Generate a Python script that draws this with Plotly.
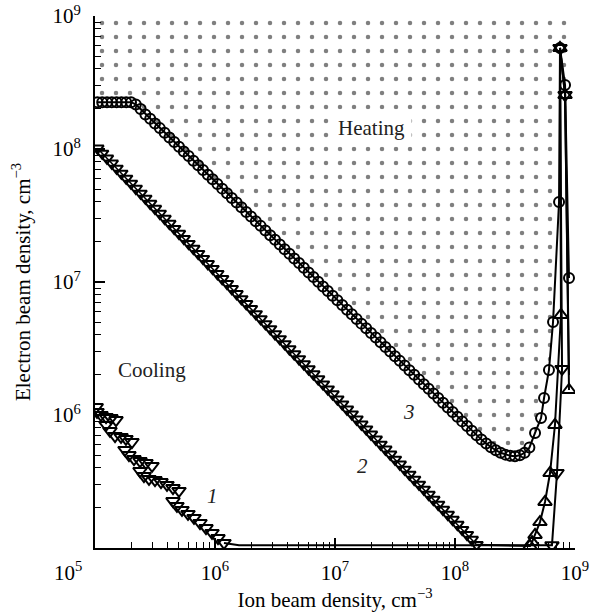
import plotly.graph_objects as go

# ---- data: log10 of densities (cm^-3) ----
# Curve 1, lower-left jagged branch (down triangles)
c1_ni = [5.010, 5.017, 5.050, 5.092, 5.133, 5.175,
         5.092, 5.125, 5.167, 5.217, 5.258, 5.308,
         5.250, 5.283, 5.325, 5.375, 5.425, 5.475,
         5.375, 5.408, 5.450, 5.500, 5.550, 5.600, 5.650, 5.700,
         5.650, 5.683, 5.725, 5.775, 5.825, 5.875, 5.925, 5.975, 6.025, 6.075]
c1_ne = [6.060, 6.023, 6.000, 5.985, 5.977, 5.962,
         5.925, 5.880, 5.842, 5.835, 5.820, 5.797,
         5.737, 5.699, 5.669, 5.654, 5.639, 5.617,
         5.579, 5.541, 5.519, 5.511, 5.496, 5.474, 5.451, 5.429,
         5.353, 5.316, 5.286, 5.256, 5.226, 5.188, 5.150, 5.113, 5.075, 5.038]
# Curve 1, bottom run and right branch
c1r_ni = [6.075, 6.200, 7.000, 8.000, 8.790, 8.808, 8.850, 8.892, 8.875, 8.917, 8.950]
c1r_ne = [5.038, 5.020, 5.020, 5.020, 5.020, 5.020, 5.564, 6.346, 8.760, 8.406, 6.300]
c1r_mark = [False, False, False, False, False, True, True, True, True, True, False]

# Curve 2, lower branch (down triangles)
c2_ni = [5.02, 5.06, 5.10, 5.14, 5.18, 5.22, 5.26, 5.30, 5.34, 5.38,
         5.42, 5.46, 5.50, 5.54, 5.58, 5.62, 5.66, 5.70, 5.74, 5.78,
         5.82, 5.86, 5.90, 5.94, 5.98, 6.02, 6.06, 6.10, 6.14, 6.18,
         6.22, 6.26, 6.30, 6.34, 6.38, 6.42, 6.46, 6.50, 6.54, 6.58,
         6.62, 6.66, 6.70, 6.74, 6.78, 6.82, 6.86, 6.90, 6.94, 6.98,
         7.02, 7.06, 7.10, 7.14, 7.18, 7.22, 7.26, 7.30, 7.34, 7.38,
         7.42, 7.46, 7.50, 7.54, 7.58, 7.62, 7.66, 7.70, 7.74, 7.78,
         7.82, 7.86, 7.90, 7.94, 7.98, 8.02, 8.06, 8.10, 8.14, 8.18]
c2_ne = [8.005, 7.967, 7.930, 7.892, 7.854, 7.816, 7.779, 7.741, 7.703, 7.666,
         7.628, 7.590, 7.552, 7.515, 7.477, 7.439, 7.401, 7.364, 7.326, 7.288,
         7.251, 7.213, 7.175, 7.137, 7.100, 7.062, 7.024, 6.987, 6.949, 6.911,
         6.873, 6.836, 6.798, 6.760, 6.722, 6.685, 6.647, 6.609, 6.572, 6.534,
         6.496, 6.458, 6.421, 6.383, 6.345, 6.308, 6.270, 6.232, 6.194, 6.157,
         6.119, 6.081, 6.043, 6.006, 5.968, 5.930, 5.893, 5.855, 5.817, 5.779,
         5.742, 5.704, 5.666, 5.629, 5.591, 5.553, 5.515, 5.478, 5.440, 5.402,
         5.364, 5.327, 5.289, 5.251, 5.214, 5.176, 5.138, 5.100, 5.063, 5.025]
# Curve 2, bottom run and right branch (up triangles)
c2r_ni = [8.18, 8.40, 8.600, 8.625, 8.642, 8.667, 8.708, 8.750, 8.792, 8.833, 8.883, 8.875, 8.917, 8.950]
c2r_ne = [5.025, 5.020, 5.020, 5.015, 5.045, 5.098, 5.195, 5.346, 5.564, 5.925, 6.752, 8.760, 8.406, 6.188]
c2r_mark = [False, False, False, True, True, True, True, True, True, True, True, True, True, True]

# Curve 3 (circles)
c3_ni = [5.02, 5.06, 5.10, 5.14, 5.18, 5.22, 5.26, 5.30, 5.34, 5.38, 5.42,
         5.46, 5.50, 5.54, 5.58, 5.62, 5.66, 5.70, 5.74, 5.78,
         5.82, 5.86, 5.90, 5.94, 5.98, 6.02, 6.06, 6.10, 6.14, 6.18,
         6.22, 6.26, 6.30, 6.34, 6.38, 6.42, 6.46, 6.50, 6.54, 6.58,
         6.62, 6.66, 6.70, 6.74, 6.78, 6.82, 6.86, 6.90, 6.94, 6.98,
         7.02, 7.06, 7.10, 7.14, 7.18, 7.22, 7.26, 7.30, 7.34, 7.38,
         7.42, 7.46, 7.50, 7.54, 7.58, 7.62, 7.66, 7.70, 7.74, 7.78,
         7.82, 7.86, 7.90, 7.94, 7.98, 8.02, 8.06, 8.10, 8.14, 8.18,
         8.22, 8.26, 8.30, 8.34, 8.38, 8.42, 8.46, 8.50, 8.54, 8.58, 8.62,
         8.667, 8.717, 8.742, 8.783, 8.817, 8.867, 8.875, 8.917, 8.950]
c3_ne = [8.352, 8.352, 8.352, 8.352, 8.352, 8.352, 8.352, 8.352, 8.335, 8.300, 8.260,
         8.227, 8.192, 8.157, 8.122, 8.087, 8.052, 8.017, 7.982, 7.947,
         7.912, 7.877, 7.842, 7.807, 7.772, 7.737, 7.702, 7.667, 7.632, 7.597,
         7.562, 7.527, 7.492, 7.457, 7.422, 7.387, 7.352, 7.317, 7.282, 7.247,
         7.212, 7.177, 7.142, 7.107, 7.072, 7.037, 7.002, 6.967, 6.932, 6.897,
         6.862, 6.827, 6.792, 6.757, 6.722, 6.687, 6.652, 6.617, 6.582, 6.547,
         6.512, 6.477, 6.442, 6.407, 6.372, 6.337, 6.302, 6.267, 6.232, 6.197,
         6.162, 6.127, 6.092, 6.057, 6.022, 5.987, 5.952, 5.917, 5.882, 5.847,
         5.815, 5.785, 5.758, 5.735, 5.716, 5.702, 5.693, 5.690, 5.697, 5.716, 5.755,
         5.865, 5.977, 6.128, 6.338, 6.699, 7.602, 8.760, 8.481, 7.030]

x_range = [5, 9]
y_range = [5, 9]
major_exp = [6, 7, 8, 9]
tick_text = ["10<sup>%d</sup>" % e for e in major_exp]
corner_label = "10<sup>5</sup>"

region_labels = [("Heating", 7.308, 8.158, False, True),
                 ("Cooling", 5.475, 6.338, False, False),
                 ("1", 5.975, 5.391, True, False),
                 ("2", 7.225, 5.617, True, False),
                 ("3", 7.617, 6.023, True, False)]


def pw(a):
    return [10 ** v for v in a]


def sel(a, m):
    return [v for v, k in zip(a, m) if k]


FONT = "Liberation Serif"
fig = go.Figure()

# Heating region pattern (above curve 3)
fx = [x_range[0]] + c3_ni + [x_range[1], x_range[1], x_range[0]]
fy = [c3_ne[0]] + c3_ne + [c3_ne[-1], y_range[1], y_range[1]]
fig.add_trace(go.Scatter(
    x=pw(fx), y=pw(fy), mode="lines", fill="toself", line=dict(width=0),
    fillcolor="white",
    fillpattern=dict(shape=".", size=14, solidity=0.08, fgcolor="black", bgcolor="white"),
    hoverinfo="skip", showlegend=False))

mk_line = dict(color="black", width=2)

# Curve 3
fig.add_trace(go.Scatter(
    x=pw(c3_ni), y=pw(c3_ne), mode="lines+markers",
    line=dict(color="black", width=2),
    marker=dict(symbol="circle-open", size=10, color="black", line=mk_line),
    showlegend=False))

# Curve 2
fig.add_trace(go.Scatter(
    x=pw(c2_ni), y=pw(c2_ne), mode="lines+markers",
    line=dict(color="black", width=1.5),
    marker=dict(symbol="triangle-down-open", size=11, color="black", line=mk_line),
    showlegend=False))
fig.add_trace(go.Scatter(
    x=pw(c2r_ni), y=pw(c2r_ne), mode="lines",
    line=dict(color="black", width=2), showlegend=False))
fig.add_trace(go.Scatter(
    x=pw(sel(c2r_ni, c2r_mark)), y=pw(sel(c2r_ne, c2r_mark)), mode="markers",
    marker=dict(symbol="triangle-up-open", size=12, color="black", line=mk_line),
    showlegend=False))

# Curve 1
fig.add_trace(go.Scatter(
    x=pw(c1_ni), y=pw(c1_ne), mode="markers",
    marker=dict(symbol="triangle-down-open", size=12, color="black", line=mk_line),
    showlegend=False))
fig.add_trace(go.Scatter(
    x=pw(c1r_ni), y=pw(c1r_ne), mode="lines",
    line=dict(color="black", width=2), showlegend=False))
fig.add_trace(go.Scatter(
    x=pw(sel(c1r_ni, c1r_mark)), y=pw(sel(c1r_ne, c1r_mark)), mode="markers",
    marker=dict(symbol="triangle-down-open", size=12, color="black", line=mk_line),
    showlegend=False))

minor_vals = [m * 10 ** e for e in range(5, 9) for m in range(2, 10)]

axis_common = dict(
    type="log", showline=True, linecolor="black", linewidth=2,
    ticks="inside", ticklen=10, tickwidth=1.5, tickcolor="black",
    showgrid=False, zeroline=False, mirror=False, automargin=False,
    tickvals=pw(major_exp), ticktext=tick_text,
    tickfont=dict(family=FONT, size=21, color="black"),
    minor=dict(ticks="inside", ticklen=6, tickwidth=1.2, tickcolor="black",
               tickvals=minor_vals, showgrid=False),
)

fig.update_xaxes(range=x_range, **axis_common, ticklabelstandoff=5,
                 title=dict(text="Ion beam density, cm<sup>\u22123</sup>",
                            font=dict(family=FONT, size=21, color="black"), standoff=6))
fig.update_yaxes(range=y_range, **axis_common, ticklabelstandoff=8,
                 title=dict(text="Electron beam density, cm<sup>\u22123</sup>",
                            font=dict(family=FONT, size=21, color="black"), standoff=16))

annotations = []
for txt, lx, ly, ital, box in region_labels:
    annotations.append(dict(
        x=lx, y=ly, xref="x", yref="y", showarrow=False,
        xanchor="center", yanchor="middle",
        text=("<i>%s</i>" % txt) if ital else txt,
        font=dict(family=FONT, size=21, color="#222"),
        bgcolor="white" if box else None, borderpad=6 if box else 0))
annotations.append(dict(
    x=-0.056, y=-0.045, xref="paper", yref="paper", showarrow=False,
    xanchor="center", yanchor="middle",
    text=corner_label, font=dict(family=FONT, size=21, color="black")))

fig.update_layout(
    width=592, height=614,
    margin=dict(l=95, r=17, t=16, b=66, autoexpand=False),
    paper_bgcolor="white", plot_bgcolor="white",
    annotations=annotations, showlegend=False,
)

fig.write_html("out.html")
